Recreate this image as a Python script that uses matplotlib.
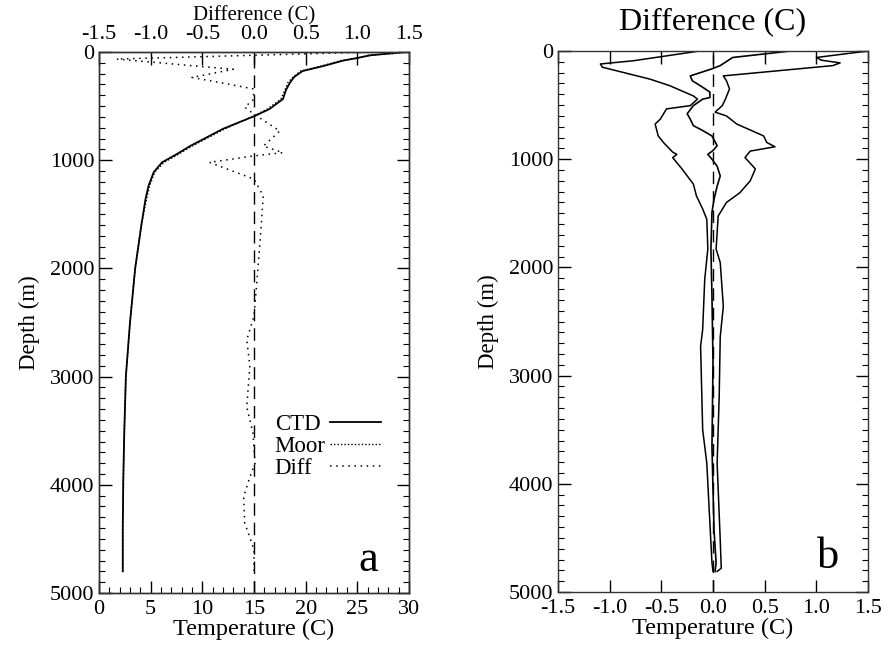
import matplotlib
matplotlib.use("Agg")
import matplotlib.pyplot as plt
from matplotlib.ticker import MultipleLocator
from matplotlib.transforms import ScaledTranslation

plt.rcParams['font.family'] = ['Liberation Serif', 'DejaVu Serif']
plt.rcParams['font.size'] = 16

# Panel a: temperature profiles (depth in m, temperature in C)
depth_ctd = [0, 15, 30, 55, 80, 130, 176, 230, 280, 350, 435, 527, 590, 710, 870,
             945, 1020, 1110, 1235, 1360, 1600, 2000, 2500, 3000, 3500, 3950, 4400, 4800]
temp_ctd = [29.6, 28.0, 26.3, 25.0, 23.6, 21.7, 19.7, 18.9, 18.5, 18.1, 17.8, 16.5, 15.1, 12.0, 8.8,
            7.5, 6.1, 5.3, 4.8, 4.5, 4.1, 3.5, 3.0, 2.6, 2.45, 2.35, 2.3, 2.3]
temp_moor = [29.8, 28.4, 26.0, 25.2, 23.4, 21.5, 19.5, 18.8, 18.3, 18.0, 17.6, 16.3, 15.0, 12.2, 9.0,
             7.7, 6.3, 5.4, 4.9, 4.6, 4.1, 3.5, 3.0, 2.6, 2.45, 2.35, 2.3, 2.3]

# Panel a: difference (moor - ctd)
depth_diff = [0, 65, 160, 235, 340, 435, 510, 575, 730, 870, 930, 960, 1020, 1175, 1330,
              1730, 2100, 2440, 2660, 2900, 3280, 3520, 3800, 3930, 4110, 4350, 4600, 4810]
diff_val = [1.15, -1.33, -0.2, -0.6, -0.01, 0.0, -0.09, 0.0, 0.25, 0.09, 0.28, 0.0, -0.43, 0.0, 0.09,
            0.06, 0.03, 0.0, -0.07, -0.04, -0.07, -0.01, 0.01, -0.04, -0.1, -0.09, 0.0, 0.0]

# Panel b: mean difference and envelope
depth_mean = [0, 60, 135, 165, 230, 275, 335, 380, 430, 445, 505, 580, 630, 690, 735, 785, 875,
              920, 955, 1000, 1065, 1155, 1250, 1370, 1490, 1830, 2270, 2880, 3660, 4430, 4730, 4810]
diff_mean = [0.75, 0.19, 0.07, -0.01, -0.22, -0.2, -0.1, -0.03, -0.03, -0.1, -0.19, -0.25, -0.22,
             -0.19, -0.1, -0.01, 0.04, 0.0, -0.05, -0.01, 0.04, 0.07, 0.04, 0.01, -0.01, -0.02,
             -0.01, 0.0, -0.01, 0.01, 0.03, 0.02]

depth_lo = [0, 90, 120, 150, 260, 320, 415, 445, 505, 535, 630, 675, 785, 845, 935, 955, 985, 1090,
            1230, 1340, 1460, 1555, 1830, 2110, 2575, 2730, 3500, 3810, 4365, 4730, 4810]
diff_lo = [-0.13, -0.77, -1.09, -1.07, -0.61, -0.42, -0.19, -0.15, -0.22, -0.45, -0.51, -0.56,
           -0.53, -0.48, -0.39, -0.35, -0.39, -0.3, -0.19, -0.16, -0.1, -0.06, -0.05, -0.08, -0.1,
           -0.12, -0.1, -0.06, -0.03, -0.01, 0.0]

depth_hi = [0, 60, 85, 110, 135, 230, 275, 350, 445, 505, 565, 600, 675, 785, 845, 885, 925, 985,
            1090, 1200, 1310, 1400, 1525, 1680, 1830, 1955, 2360, 2640, 3190, 3810, 4520, 4780, 4810]
diff_hi = [1.5, 1.0, 1.05, 1.23, 1.16, 0.1, 0.13, 0.16, 0.12, 0.09, 0.02, 0.13, 0.23, 0.49, 0.52,
           0.6, 0.36, 0.31, 0.41, 0.36, 0.26, 0.13, 0.05, 0.04, 0.03, 0.07, 0.1, 0.07, 0.06, 0.04,
           0.07, 0.08, 0.04]

diff_ticks = [-1.5, -1.0, -0.5, 0.0, 0.5, 1.0, 1.5]

W, H = 884, 647
fig = plt.figure(figsize=(W / 100, H / 100), dpi=100)


def px_axes(x0, y0, x1, y1):
    return fig.add_axes([x0 / W, 1 - y1 / H, (x1 - x0) / W, (y1 - y0) / H])


def frame(ax):
    for s in ax.spines.values():
        s.set_linewidth(1.0)
        s.set_color("#333333")


def style_depth_axis(ax):
    ax.set_ylim(5000, 0)
    ax.yaxis.set_major_locator(MultipleLocator(1000))
    ax.yaxis.set_minor_locator(MultipleLocator(100))
    ax.set_ylabel("Depth (m)", fontsize=16.5, labelpad=7)
    frame(ax)
    ax.tick_params(axis='y', which='both', direction='in', left=True, right=True, labelsize=16)
    ax.tick_params(which='major', length=9, width=1)
    ax.tick_params(which='minor', length=4.5, width=0.8)
    fig.canvas.draw()
    # the "0" label sits a little below the top of the frame
    lab0 = ax.get_yticklabels()[0]
    lab0.set_transform(lab0.get_transform() + ScaledTranslation(0, -6 / 100, fig.dpi_scale_trans))


# ---- panel a ----
ax = px_axes(99, 52, 409, 593)
ax.set_xlim(0, 30)
ax.xaxis.set_major_locator(MultipleLocator(5))
ax.xaxis.set_minor_locator(MultipleLocator(1))
style_depth_axis(ax)
ax.tick_params(axis='x', which='both', direction='in', top=False, bottom=True, labelsize=16, pad=5)
ax.set_xlabel("Temperature (C)", fontsize=17.5, labelpad=0)

l_ctd, = ax.plot(temp_ctd, depth_ctd, color='black', lw=1.3, label="CTD")
l_moor, = ax.plot(temp_moor, depth_ctd, color='black', lw=1.0,
                  linestyle=(0, (1, 1.5)), label="Moor")

ax2 = ax.twiny()
ax2.set_xlim(-1.5, 1.5)
ax2.set_ylim(5000, 0)
ax2.set_xticks(diff_ticks)
ax2.set_xticklabels([f"{v:.1f}" for v in diff_ticks])
ax2.tick_params(axis='x', which='major', direction='in', top=True, length=9, width=1,
                labelsize=16, pad=6)
ax2.set_xlabel("Difference (C)", fontsize=15, labelpad=3)
frame(ax2)
ax2.axvline(0, color='black', lw=1.0, linestyle=(0, (9, 5)))
l_diff, = ax2.plot(diff_val, depth_diff, color='black', lw=1.1, linestyle=(0, (1, 3)), label="Diff")

leg = ax.legend(handles=[l_ctd, l_moor, l_diff], loc='upper left', bbox_to_anchor=(0.53, 0.352),
                markerfirst=False, frameon=False, handlelength=2.2, handletextpad=0.2,
                labelspacing=0.05, borderpad=0, fontsize=16.5)
# left-align the legend labels while keeping the line samples in one column
fig.canvas.draw()
rend = fig.canvas.get_renderer()
widths = [t.get_window_extent(rend).width for t in leg.get_texts()]
base_sep = leg.handletextpad * leg.prop.get_size_in_points()
for item, w in zip(leg._legend_handle_box.get_children()[0].get_children(), widths):
    item.sep = base_sep + (max(widths) - w) * 72 / fig.dpi

ax.text(0.868, 0.04, "a", transform=ax.transAxes, fontsize=32, ha='center', va='baseline')

# ---- panel b ----
bx = px_axes(558, 51, 868, 592)
bx.set_xlim(-1.5, 1.5)
bx.set_xticks(diff_ticks)
bx.set_xticklabels([f"{v:.1f}" for v in diff_ticks])
style_depth_axis(bx)
bx.tick_params(axis='x', which='major', direction='in', top=True, bottom=True, labelsize=16, pad=5)
bx.set_xlabel("Temperature (C)", fontsize=17.5, labelpad=0)
bx.set_title("Difference (C)", fontsize=23, pad=16)

bx.axvline(0, color='black', lw=1.0, linestyle=(0, (9, 5)))
bx.plot(diff_mean, depth_mean, color='black', lw=1.2)
bx.plot(diff_lo, depth_lo, color='black', lw=1.1)
bx.plot(diff_hi, depth_hi, color='black', lw=1.1)
bx.text(0.87, 0.045, "b", transform=bx.transAxes, fontsize=32, ha='center', va='baseline')

fig.savefig("out.png", dpi=100)
